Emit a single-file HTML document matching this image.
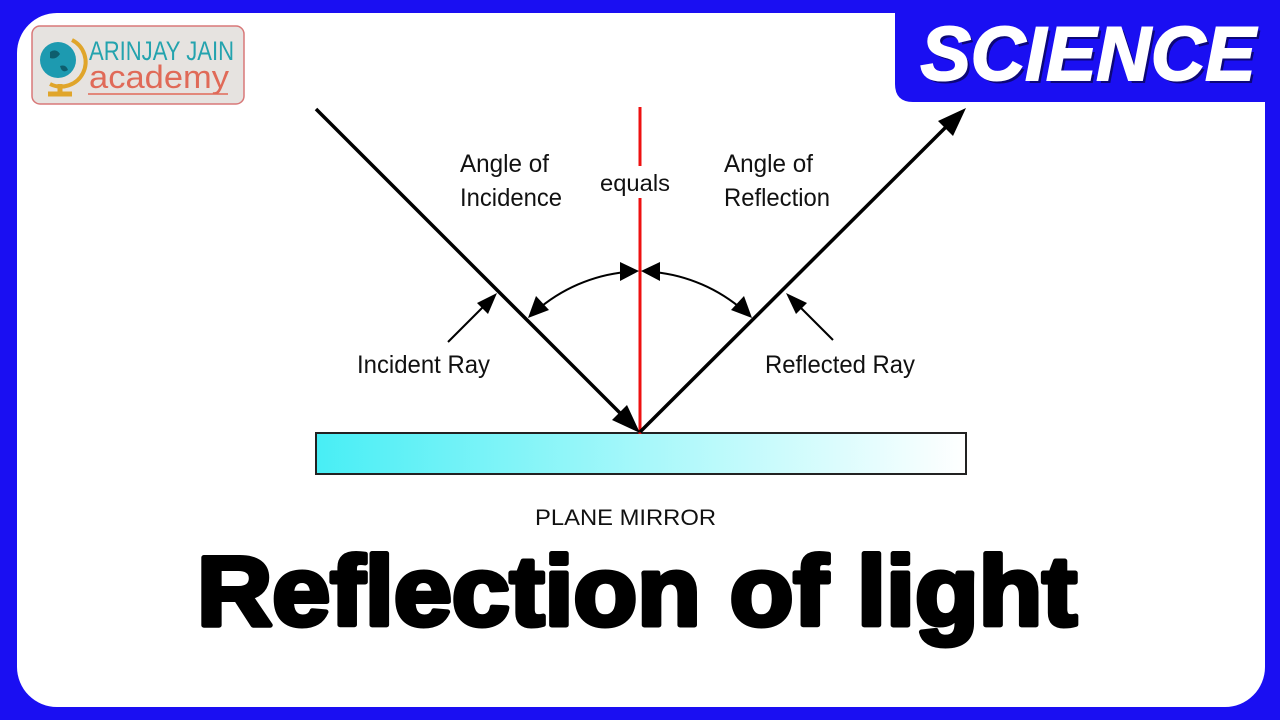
<!DOCTYPE html>
<html><head><meta charset="utf-8"><style>
html,body{margin:0;padding:0;width:1280px;height:720px;overflow:hidden;background:#1a0ff2}
</style></head><body>
<svg width="1280" height="720" viewBox="0 0 1280 720" xmlns="http://www.w3.org/2000/svg">
<defs>
<linearGradient id="m" x1="0" x2="1" y1="0" y2="0">
<stop offset="0" stop-color="#48eef5"/><stop offset="0.5" stop-color="#a6f8fa"/><stop offset="1" stop-color="#ffffff"/>
</linearGradient>
<marker id="ah" viewBox="0 0 10 10" refX="10" refY="5" markerWidth="8" markerHeight="8" markerUnits="userSpaceOnUse" orient="auto"><path d="M0,0 L10,5 L0,10 z" fill="#000"/></marker>
</defs>
<rect x="0" y="0" width="1280" height="720" fill="#1a0ff2"/>
<rect x="17" y="13" width="1248" height="694" rx="40" fill="#fff"/>
<!-- science tab -->
<path d="M895 0 H1280 V102 H913 Q895 102 895 84 Z" fill="#1a0ff2"/>
<text x="1088" y="80" font-family="Liberation Sans, sans-serif" font-weight="bold" font-style="italic" font-size="76" fill="#000" opacity="0.5" text-anchor="middle" textLength="335" lengthAdjust="spacingAndGlyphs" transform="translate(3,3)">SCIENCE</text>
<text x="1088" y="80" font-family="Liberation Sans, sans-serif" font-weight="bold" font-style="italic" font-size="76" fill="#fff" stroke="#fff" stroke-width="2" text-anchor="middle" textLength="335" lengthAdjust="spacingAndGlyphs">SCIENCE</text>
<!-- logo -->
<rect x="32" y="26" width="212" height="78" rx="8" fill="#e6e3e0" stroke="#d87878" stroke-width="1.5"/>
<circle cx="58" cy="60" r="18" fill="#1d9ab0"/>
<path d="M50 52 q6 -4 10 2 q-4 6 -10 4z M60 66 q6 -2 8 4 q-6 4 -8 -4z" fill="#0e5e6e"/>
<path d="M72 40 A24 24 0 0 1 50 84" fill="none" stroke="#e0a52a" stroke-width="4"/>
<path d="M60 84 v8 M48 94 h24" stroke="#e0a52a" stroke-width="5"/>
<text x="89" y="60" font-family="Liberation Sans, sans-serif" font-size="27" fill="#24a3ae" textLength="145" lengthAdjust="spacingAndGlyphs">ARINJAY JAIN</text>
<text x="89" y="88" font-family="Liberation Sans, sans-serif" font-size="32" fill="#e06a58" textLength="140" lengthAdjust="spacingAndGlyphs">academy</text>
<line x1="88" y1="94" x2="228" y2="94" stroke="#e06a58" stroke-width="1.5"/>
<!-- mirror -->
<rect x="316" y="433" width="650" height="41" fill="url(#m)" stroke="#222" stroke-width="2"/>
<!-- normal -->
<line x1="640" y1="107" x2="640" y2="166" stroke="#ee1111" stroke-width="3"/>
<line x1="640" y1="198" x2="640" y2="434" stroke="#ee1111" stroke-width="3"/>
<!-- rays -->
<line x1="316" y1="109" x2="632" y2="425" stroke="#000" stroke-width="3.5"/>
<path d="M640 433 L612 420 L627 405 Z" fill="#000"/>
<line x1="640" y1="432" x2="955" y2="118" stroke="#000" stroke-width="3.5"/>
<path d="M966 108 L953 136 L938 121 Z" fill="#000"/>
<!-- arcs -->
<path d="M536 311 A161 161 0 0 1 626 272" fill="none" stroke="#000" stroke-width="2"/>
<path d="M744 311 A161 161 0 0 0 654 272" fill="none" stroke="#000" stroke-width="2"/>
<path d="M528 318 L536 296 L549 310 Z" fill="#000"/>
<path d="M752 318 L744 296 L731 310 Z" fill="#000"/>
<path d="M639 271 L620 262 L620 281 Z" fill="#000"/>
<path d="M641 271 L660 262 L660 281 Z" fill="#000"/>
<!-- pointers -->
<line x1="448" y1="342" x2="488" y2="302" stroke="#000" stroke-width="2"/>
<path d="M497 293 L488 314 L477 303 Z" fill="#000"/>
<line x1="833" y1="340" x2="795" y2="302" stroke="#000" stroke-width="2"/>
<path d="M786 293 L807 303 L796 314 Z" fill="#000"/>
<!-- labels -->
<g font-family="Liberation Sans, sans-serif" font-size="25" fill="#111">
<text x="460" y="172" textLength="89" lengthAdjust="spacingAndGlyphs">Angle of</text>
<text x="460" y="206" textLength="102" lengthAdjust="spacingAndGlyphs">Incidence</text>
<text x="600" y="191" font-size="23" textLength="70" lengthAdjust="spacingAndGlyphs">equals</text>
<text x="724" y="172" textLength="89" lengthAdjust="spacingAndGlyphs">Angle of</text>
<text x="724" y="206" textLength="106" lengthAdjust="spacingAndGlyphs">Reflection</text>
<text x="357" y="373" textLength="133" lengthAdjust="spacingAndGlyphs">Incident Ray</text>
<text x="765" y="373" textLength="150" lengthAdjust="spacingAndGlyphs">Reflected Ray</text>
<text x="535" y="525" font-size="22" textLength="181" lengthAdjust="spacingAndGlyphs">PLANE MIRROR</text>
</g>
<text x="197" y="625" font-family="Liberation Sans, sans-serif" font-weight="bold" font-size="98" fill="#000" stroke="#000" stroke-width="5" stroke-linejoin="round" textLength="880" lengthAdjust="spacingAndGlyphs">Reflection of light</text>
</svg>
</body></html>
